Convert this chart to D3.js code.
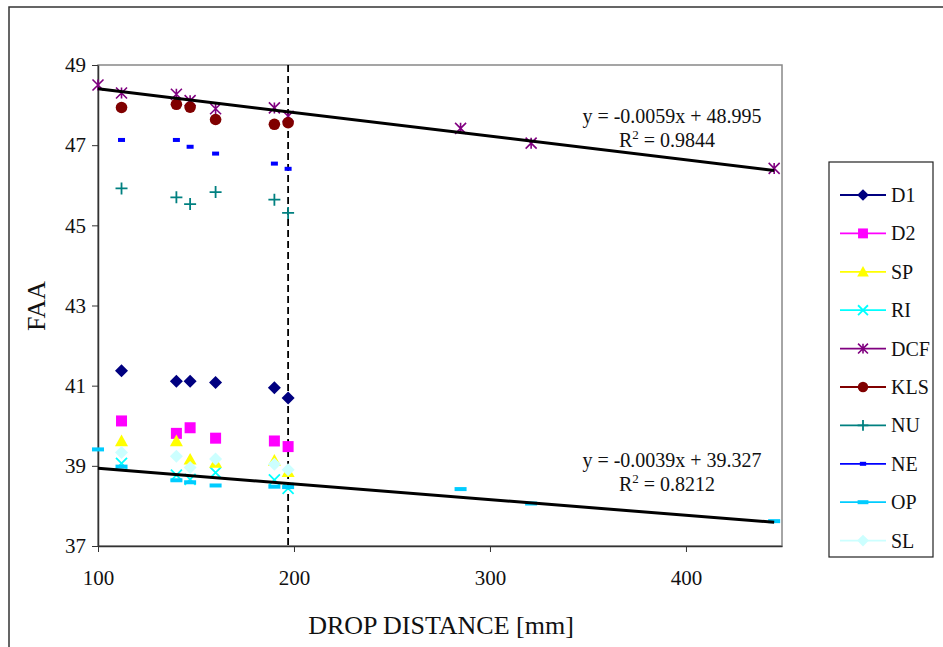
<!DOCTYPE html>
<html>
<head>
<meta charset="utf-8">
<script src="https://cdn.jsdelivr.net/npm/d3@7"></script>
<style>
  body { margin: 0; background: #fff; }
  svg { display: block; font-family: "Liberation Serif", "Times New Roman", serif; }
</style>
</head>
<body>
<script>
// drop distances shared by most series
var dist = [112, 140, 147, 160, 190, 197];
var distDCF = [100, 112, 140, 147, 160, 190, 197, 285, 321, 445];
var distOP = [100, 112, 140, 147, 160, 190, 197, 285, 321, 445];

var D1 = [41.37, 41.11, 41.11, 41.08, 40.95, 40.69];
var D2 = [40.12, 39.81, 39.95, 39.69, 39.62, 39.48];
var SP = [39.62, 39.62, 39.16, 39.08, 39.13, 38.85];
var RI = [39.06, 38.77, 38.66, 38.83, 38.65, 38.44];
var DCF = [48.50, 48.30, 48.27, 48.11, 47.91, 47.93, 47.72, 47.42, 47.05, 46.42];
var KLS = [47.94, 48.02, 47.95, 47.64, 47.52, 47.56];
var NU = [45.92, 45.70, 45.53, 45.83, 45.64, 45.31];
var NE = [47.13, 47.13, 46.96, 46.79, 46.54, 46.41];
var OP = [39.41, 38.98, 38.64, 38.59, 38.51, 38.48, 38.47, 38.42, 38.06, 37.62];
var SL = [39.33, 39.24, 38.96, 39.17, 39.04, 38.90];

var seriesNames = ["D1", "D2", "SP", "RI", "DCF", "KLS", "NU", "NE", "OP", "SL"];
var seriesColors = ["#000080", "#FF00FF", "#FFFF00", "#00FFFF", "#800080", "#800000", "#008080", "#0000FF", "#00CCFF", "#CCFFFF"];
var seriesMarks = ["diamond", "square", "triangle", "x", "star", "circle", "plus", "dashS", "dashL", "diamond"];

var xTicks = [100, 200, 300, 400];
var yTicks = [37, 39, 41, 43, 45, 47, 49];

// trend lines: slope, intercept, x range
var fitUpper = {m: -0.0059, b: 48.995, x0: 100, x1: 445, eq: "y = -0.0059x + 48.995", r2: "0.9844"};
var fitLower = {m: -0.0039, b: 39.327, x0: 100, x1: 445, eq: "y = -0.0039x + 39.327", r2: "0.8212"};
var cutoff = 197;

var W = 943, H = 647;
var svg = d3.select("body").append("svg").attr("width", W).attr("height", H);

// outer frame
svg.append("rect").attr("x", 9).attr("y", 7).attr("width", W).attr("height", H)
  .attr("fill", "none").attr("stroke", "#333").attr("stroke-width", 1.5);

var x = d3.scaleLinear().domain([100, 449]).range([98, 782]);
var y = d3.scaleLinear().domain([37, 49]).range([546, 65]);

// plot border (top/right grey)
svg.append("rect").attr("x", 98).attr("y", 65).attr("width", 684).attr("height", 481)
  .attr("fill", "none").attr("stroke", "#888").attr("stroke-width", 1.5);

var gx = svg.append("g").attr("transform", "translate(0,546)")
  .call(d3.axisBottom(x).tickValues(xTicks).tickSize(6).tickPadding(18).tickSizeOuter(0));
var gy = svg.append("g").attr("transform", "translate(98,0)")
  .call(d3.axisLeft(y).tickValues(yTicks).tickSize(6).tickPadding(6).tickSizeOuter(0));
[gx, gy].forEach(function(g) {
  g.select(".domain").attr("stroke", "#333").attr("stroke-width", 1.5);
  g.selectAll(".tick line").attr("stroke", "#333");
  g.selectAll("text").attr("font-family", "Liberation Serif").attr("font-size", 21).attr("fill", "#111");
});

svg.append("text").attr("x", 441).attr("y", 634).attr("text-anchor", "middle")
  .attr("font-size", 26).attr("fill", "#111").text("DROP DISTANCE [mm]");
svg.append("text").attr("transform", "translate(45,306) rotate(-90)").attr("text-anchor", "middle")
  .attr("font-size", 26).attr("fill", "#111").text("FAA");

// vertical cutoff line
svg.append("line").attr("x1", x(cutoff)).attr("x2", x(cutoff)).attr("y1", y(49)).attr("y2", y(37))
  .attr("stroke", "#000").attr("stroke-width", 1.8).attr("stroke-dasharray", "7,4");

function drawMark(g, type, color, cx, cy, s) {
  s = s || 1;
  if (type === "diamond") {
    var d = 6.5 * s;
    g.append("path").attr("d", "M" + cx + "," + (cy - d) + "L" + (cx + d) + "," + cy + "L" + cx + "," + (cy + d) + "L" + (cx - d) + "," + cy + "Z").attr("fill", color);
  } else if (type === "square") {
    g.append("rect").attr("x", cx - 5.5 * s).attr("y", cy - 5.5 * s).attr("width", 11 * s).attr("height", 11 * s).attr("fill", color);
  } else if (type === "triangle") {
    var t = 6.5 * s;
    g.append("path").attr("d", "M" + cx + "," + (cy - t) + "L" + (cx + t) + "," + (cy + t * 0.8) + "L" + (cx - t) + "," + (cy + t * 0.8) + "Z").attr("fill", color);
  } else if (type === "circle") {
    g.append("circle").attr("cx", cx).attr("cy", cy).attr("r", 5.8 * s).attr("fill", color);
  } else if (type === "x") {
    var r = 5.5 * s;
    g.append("path").attr("d", "M" + (cx - r) + "," + (cy - r) + "L" + (cx + r) + "," + (cy + r) + "M" + (cx - r) + "," + (cy + r) + "L" + (cx + r) + "," + (cy - r))
      .attr("stroke", color).attr("stroke-width", 1.8);
  } else if (type === "plus") {
    var p = 6 * s;
    g.append("path").attr("d", "M" + (cx - p) + "," + cy + "L" + (cx + p) + "," + cy + "M" + cx + "," + (cy - p) + "L" + cx + "," + (cy + p))
      .attr("stroke", color).attr("stroke-width", 1.8);
  } else if (type === "star") {
    var q = 5.5 * s;
    g.append("path").attr("d", "M" + (cx - q) + "," + (cy - q) + "L" + (cx + q) + "," + (cy + q) + "M" + (cx - q) + "," + (cy + q) + "L" + (cx + q) + "," + (cy - q) +
      "M" + cx + "," + (cy - q) + "L" + cx + "," + (cy + q))
      .attr("stroke", color).attr("stroke-width", 1.6);
  } else if (type === "dashS") {
    g.append("rect").attr("x", cx - 3.5 * s).attr("y", cy - 2).attr("width", 7 * s).attr("height", 4).attr("fill", color);
  } else if (type === "dashL") {
    g.append("rect").attr("x", cx - 6 * s).attr("y", cy - 2).attr("width", 12 * s).attr("height", 4).attr("fill", color);
  }
}

var seriesVals = [D1, D2, SP, RI, DCF, KLS, NU, NE, OP, SL];
var seriesX = seriesNames.map(function(n) { return n === "DCF" ? distDCF : (n === "OP" ? distOP : dist); });

// draw order so the pale ones sit on top like the original
var order = [4, 5, 7, 6, 0, 1, 3, 8, 2, 9];
var marks = svg.append("g");
order.forEach(function(i) {
  seriesVals[i].forEach(function(v, j) {
    drawMark(marks, seriesMarks[i], seriesColors[i], x(seriesX[i][j]), y(v));
  });
});

// trend lines + equations
[fitUpper, fitLower].forEach(function(f) {
  svg.append("line").attr("x1", x(f.x0)).attr("y1", y(f.m * f.x0 + f.b))
    .attr("x2", x(f.x1)).attr("y2", y(f.m * f.x1 + f.b))
    .attr("stroke", "#000").attr("stroke-width", 3);
});
function eqLabel(f, ty) {
  svg.append("text").attr("x", 672).attr("y", ty).attr("text-anchor", "middle")
    .attr("font-size", 20).attr("fill", "#111").text(f.eq);
  var t = svg.append("text").attr("x", 667).attr("y", ty + 24).attr("text-anchor", "middle")
    .attr("font-size", 20).attr("fill", "#111");
  t.append("tspan").text("R");
  t.append("tspan").attr("font-size", 13).attr("dy", -8).text("2");
  t.append("tspan").attr("dy", 8).text(" = " + f.r2);
}
eqLabel(fitUpper, 123);
eqLabel(fitLower, 467);

// legend
var lg = svg.append("g");
lg.append("rect").attr("x", 829).attr("y", 162).attr("width", 104).attr("height", 395)
  .attr("fill", "#fff").attr("stroke", "#222").attr("stroke-width", 1.2);
seriesNames.forEach(function(n, i) {
  var ly = 195 + i * 38.4;
  lg.append("line").attr("x1", 840).attr("x2", 886).attr("y1", ly).attr("y2", ly)
    .attr("stroke", seriesColors[i]).attr("stroke-width", 1.8);
  drawMark(lg, seriesMarks[i], seriesColors[i], 863, ly, 0.9);
  lg.append("text").attr("x", 891).attr("y", ly + 7).attr("font-size", 20).attr("fill", "#111").text(n);
});
</script>
</body>
</html>
